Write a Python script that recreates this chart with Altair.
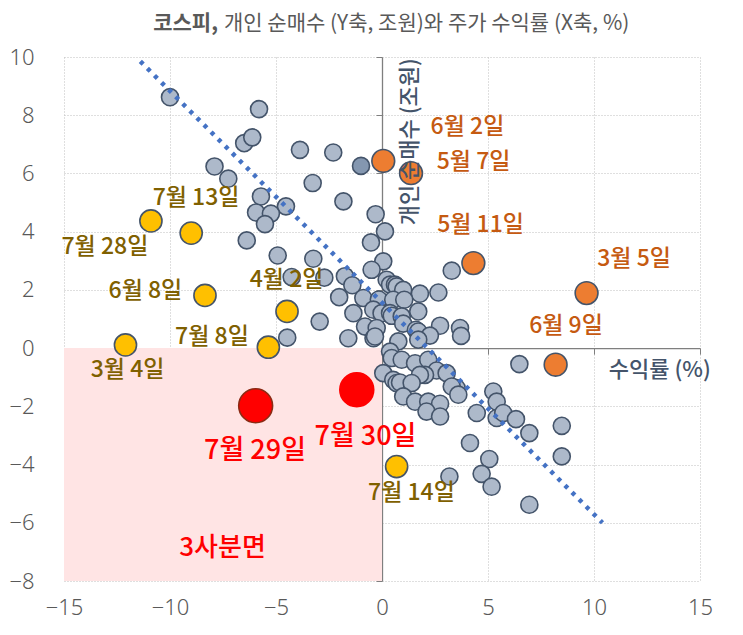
import altair as alt
import pandas as pd

# ---------------- data ----------------
gray_x = [-10.0, -5.8, -6.5, -6.12, -3.87, -2.3, -7.9, -7.25, -3.27, -1.82,
          -5.71, -4.53, -0.3, -5.94, -5.24, -5.52, -6.38, 0.14, -0.52, -4.92,
          -3.24, 0.06, -4.26, -2.72, -1.75, -1.4, -0.49, 0.22, 0.38, 0.61,
          0.69, 1.0, 1.79, 2.66, 3.29, -2.02, -0.88, -0.15, 0.53, 1.05,
          -1.35, -0.41, -0.02, 0.38, 0.46, 0.93, 1.71, 2.74, 3.68, 3.73,
          -2.94, -0.8, -0.25, 1.0, 1.6, 1.71, 2.26, -4.47, -1.59, -0.4,
          -0.33, 0.77, 1.71, 0.38, 0.46, 0.93, 0.06, 0.53, 0.69, 0.85,
          1.56, 2.18, 2.58, 3.05, 2.03, 1.79, 1.4, 3.52, 3.29, 1.0,
          1.56, 2.18, 2.74, 2.1, 2.74, 3.6, 4.47, 5.25, 5.41, 5.41,
          5.72, 6.32, 6.95, 8.48, 8.48, 4.15, 5.06, 4.7, 5.17, 3.18,
          6.95, 6.48]
gray_y = [8.62, 8.21, 7.04, 7.24, 6.81, 6.72, 6.24, 5.82, 5.67, 5.04,
          5.21, 4.87, 4.6, 4.66, 4.62, 4.26, 3.70, 4.01, 3.63, 3.18,
          3.07, 2.98, 2.44, 2.42, 2.47, 2.16, 2.69, 2.35, 2.18, 2.18,
          2.12, 2.0, 1.87, 1.91, 2.66, 1.75, 1.72, 1.67, 1.66, 1.66,
          1.2, 1.32, 1.2, 1.2, 1.11, 1.09, 1.26, 0.77, 0.69, 0.42,
          0.91, 0.74, 0.69, 0.84, 0.63, 0.57, 0.43, 0.36, 0.34, 0.34,
          0.4, 0.23, 0.29, -0.12, -0.34, -0.4, -0.86, -1.09, -1.2, -1.18,
          -0.52, -0.4, -0.77, -0.86, -0.92, -0.92, -1.2, -1.37, -1.32, -1.66,
          -1.84, -1.84, -1.91, -2.18, -2.35, -1.6, -2.23, -1.49, -1.84, -2.4,
          -2.23, -2.44, -2.92, -2.67, -3.72, -3.26, -3.81, -4.32, -4.76, -4.41,
          -5.38, -0.55]
dark_x = [-0.99]
dark_y = [6.26]

orange_x = [0.06, 1.37, 4.31, 9.65, 8.19]
orange_y = [6.43, 6.01, 2.92, 1.89, -0.57]
orange_labels = ["6월 2일", "5월 7일", "5월 11일", "3월 5일", "6월 9일"]
orange_lx = [4.03, 4.32, 4.65, 11.89, 8.68]
orange_ly = [7.60, 6.40, 4.24, 3.07, 0.77]

yellow_x = [-9.0, -10.9, -8.35, -4.48, -5.36, -12.1, 0.69]
yellow_y = [3.95, 4.37, 1.81, 1.26, 0.03, 0.11, -4.07]
yellow_labels = ["7월 13일", "7월 28일", "6월 8일", "4월 2일", "7월 8일", "3월 4일", "7월 14일"]
yellow_lx = [-8.77, -13.07, -11.16, -4.5, -8.02, -12.0, 1.39]
yellow_ly = [5.16, 3.48, 1.97, 2.35, 0.39, -0.75, -4.97]

red_x = [-5.96, -1.19]
red_y = [-1.98, -1.43]
red_stroke = ["#8b2a14", "#ff0000"]
red_labels = ["7월 29일", "7월 30일"]
red_lx = [-5.99, -0.78]
red_ly = [-3.53, -3.05]

trend_x = [-11.4, 10.4]
trend_y = [9.85, -6.0]

quad_x, quad_x2, quad_y, quad_y2 = [-15], [0], [-8], [0]
quad_label = ["3사분면"]
quad_lx, quad_ly = [-7.52], [-6.86]

x_ticks = [-15, -10, -5, 0, 5, 10, 15]
y_ticks = [-8, -6, -4, -2, 0, 2, 4, 6, 8, 10]

x_title = ["수익률 (%)"]
x_title_x, x_title_y = [13.1], [-0.75]
y_title = ["개인 순매수 (조원)"]
y_title_x, y_title_y = [1.32], [7.09]

title_bold = "코스피,"
title_rest = "개인 순매수 (Y축, 조원)와 주가 수익률 (X축, %)"

# ---------------- chart ----------------
W, H = 636, 524
FONT = "Noto Sans CJK KR"
TICKFONT = "Noto Sans"
xs = alt.Scale(domain=[-15, 15], nice=False, zero=False)
ys = alt.Scale(domain=[-8, 10], nice=False, zero=False)

gray_df = pd.DataFrame({"x": gray_x, "y": gray_y})
dark_df = pd.DataFrame({"x": dark_x, "y": dark_y})
orange_df = pd.DataFrame({"x": orange_x, "y": orange_y})
orange_lab = pd.DataFrame({"x": orange_lx, "y": orange_ly, "t": orange_labels})
yellow_df = pd.DataFrame({"x": yellow_x, "y": yellow_y})
yellow_lab = pd.DataFrame({"x": yellow_lx, "y": yellow_ly, "t": yellow_labels})
red_df = pd.DataFrame({"x": red_x, "y": red_y, "s": red_stroke})
red_lab = pd.DataFrame({"x": red_lx, "y": red_ly, "t": red_labels})
trend_df = pd.DataFrame({"x": trend_x, "y": trend_y})
quad_df = pd.DataFrame({"x": quad_x, "x2": quad_x2, "y": quad_y, "y2": quad_y2})
quad_lab = pd.DataFrame({"x": quad_lx, "y": quad_ly, "t": quad_label})
xt_df = pd.DataFrame({"x": x_title_x, "y": x_title_y, "t": x_title})
yt_df = pd.DataFrame({"x": y_title_x, "y": y_title_y, "t": y_title})

main_x_axis = alt.Axis(values=x_ticks, grid=True, domain=False, ticks=False,
                       labelFontSize=22, labelColor="#595959", labelFont=TICKFONT,
                       labelFontWeight=300,
                       labelPadding=16, gridColor="#bfbfbf", gridDash=[1, 2],
                       gridWidth=1, title=None, labelFlush=False)
main_y_axis = alt.Axis(values=y_ticks, grid=True, domain=False, ticks=False,
                       labelFontSize=22, labelColor="#595959", labelFont=TICKFONT,
                       labelFontWeight=300,
                       labelPadding=30, gridColor="#bfbfbf", gridDash=[1, 2],
                       gridWidth=1, title=None, labelFlush=False)
zero_x_axis = alt.Axis(values=x_ticks, orient="bottom", offset=-H * 8 / 18,
                       labels=False, grid=False, domain=True, ticks=True,
                       domainColor="#7f7f7f", tickColor="#7f7f7f", tickSize=6,
                       domainWidth=1.3, title=None)
zero_y_axis = alt.Axis(values=y_ticks, orient="left", offset=-W / 2,
                       labels=False, grid=False, domain=True, ticks=True,
                       domainColor="#7f7f7f", tickColor="#7f7f7f", tickSize=6,
                       domainWidth=1.3, title=None)

quad = alt.Chart(quad_df).mark_rect(fill="#ffe4e4").encode(
    x=alt.X("x:Q", scale=xs, axis=main_x_axis),
    x2="x2", y=alt.Y("y:Q", scale=ys, axis=main_y_axis), y2="y2")

pt = dict(stroke="#44546a", strokeWidth=1.6, opacity=1)

gray = alt.Chart(gray_df).mark_circle(fill="#adb9ca", size=290, **pt).encode(
    x=alt.X("x:Q", scale=xs, axis=zero_x_axis),
    y=alt.Y("y:Q", scale=ys, axis=zero_y_axis))
dark = alt.Chart(dark_df).mark_circle(fill="#8497b0", size=290, **pt).encode(
    x=alt.X("x:Q", scale=xs, axis=None), y=alt.Y("y:Q", scale=ys, axis=None))

trend = alt.Chart(trend_df).mark_line(color="#4472c4", strokeWidth=4.5,
                                      strokeDash=[4, 6], strokeCap="butt").encode(
    x=alt.X("x:Q", scale=xs, axis=None), y=alt.Y("y:Q", scale=ys, axis=None))

orange = alt.Chart(orange_df).mark_circle(fill="#ed7d31", size=520, **pt).encode(
    x=alt.X("x:Q", scale=xs, axis=None), y=alt.Y("y:Q", scale=ys, axis=None))
yellow = alt.Chart(yellow_df).mark_circle(fill="#ffc000", size=490, **pt).encode(
    x=alt.X("x:Q", scale=xs, axis=None), y=alt.Y("y:Q", scale=ys, axis=None))
red = alt.Chart(red_df).mark_circle(fill="#ff0000", size=1150, opacity=1,
                                    strokeWidth=1.6).encode(
    x=alt.X("x:Q", scale=xs, axis=None), y=alt.Y("y:Q", scale=ys, axis=None),
    stroke=alt.Stroke("s:N", scale=None))


def labels(df, color, size, weight=500, angle=0):
    return alt.Chart(df).mark_text(color=color, fontSize=size, font=FONT,
                                   fontWeight=weight, align="center",
                                   baseline="middle", angle=angle).encode(
        x=alt.X("x:Q", scale=xs, axis=None), y=alt.Y("y:Q", scale=ys, axis=None),
        text="t:N")


olab = labels(orange_lab, "#c55a11", 23)
ylab = labels(yellow_lab, "#7f6000", 23)
rlab = labels(red_lab, "#ff0000", 27)
qlab = labels(quad_lab, "#ff0000", 26)
xtl = labels(xt_df, "#44546a", 22)
ytl = labels(yt_df, "#44546a", 22, angle=270)

t1 = alt.Chart(pd.DataFrame({"t": [title_bold]})).mark_text(
    font=FONT, fontSize=21, fontWeight="bold", color="#595959",
    align="right", baseline="middle").encode(
    x=alt.value(154), y=alt.value(-33), text="t:N")
t2 = alt.Chart(pd.DataFrame({"t": [title_rest]})).mark_text(
    font=FONT, fontSize=21, fontWeight="normal", color="#595959",
    align="left", baseline="middle").encode(
    x=alt.value(160), y=alt.value(-33), text="t:N")

chart = alt.layer(quad, gray, dark, trend, orange, yellow, red,
                  olab, ylab, rlab, qlab, xtl, ytl, t1, t2).resolve_axis(
    x="independent", y="independent").properties(
    width=W, height=H,
    autosize=alt.AutoSizeParams(type="none"),
    padding={"left": 56, "top": 49, "right": 35, "bottom": 46},
    background="white",
).configure_view(stroke=None)

chart.save("out.html", embed_options={"renderer": "svg", "actions": False})
